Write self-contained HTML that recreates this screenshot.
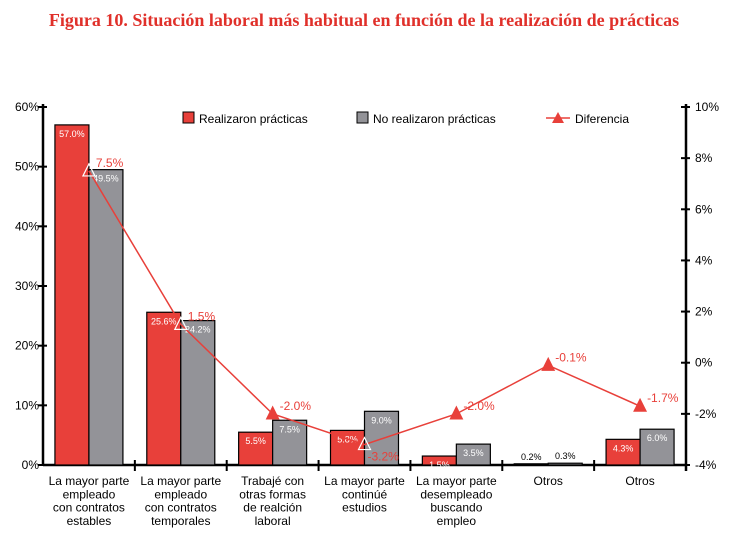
<!DOCTYPE html>
<html><head><meta charset="utf-8"><style>
body{margin:0;background:#fff;width:734px;height:537px;overflow:hidden}
svg{font-family:"Liberation Sans",Arial,sans-serif}
</style></head><body>
<svg width="734" height="537">
<text x="364" y="26" text-anchor="middle" fill="#e0302a" font-family="Liberation Serif,serif" font-weight="bold" font-size="18">Figura 10. Situación laboral más habitual en función de la realización de prácticas</text>
<g id="axes"></g><g id="bars"></g><g id="line"></g>
<g>
<rect x="183" y="112" width="11" height="11" fill="#e8403a" stroke="#000"/>
<text x="199" y="123" font-size="12">Realizaron prácticas</text>
<rect x="357" y="112" width="11" height="11" fill="#939398" stroke="#000"/>
<text x="373" y="123" font-size="12">No realizaron prácticas</text>
<line x1="546" y1="118" x2="570" y2="118" stroke="#e8403a" stroke-width="1.5"/>
<polygon points="558,112 552,123 564,123" fill="#e8403a"/>
<text x="575" y="123" font-size="12">Diferencia</text>
</g>
</svg>
<script>
const categories=[["La mayor parte","empleado","con contratos","estables"],["La mayor parte","empleado","con contratos","temporales"],["Trabajé con","otras formas","de realción","laboral"],["La mayor parte","continúé","estudios"],["La mayor parte","desempleado","buscando","empleo"],["Otros"],["Otros"]];
const realizaron=[57.0,25.6,5.5,5.8,1.5,0.2,4.3];
const noRealizaron=[49.5,24.2,7.5,9.0,3.5,0.3,6.0];
const diferencia=[7.5,1.5,-2.0,-3.2,-2.0,-0.1,-1.7];
const leftTicks=[0,10,20,30,40,50,60];
const rightTicks=[-4,-2,0,2,4,6,8,10];
const NS="http://www.w3.org/2000/svg";
const X0=43,X1=686,Y0=465,Y1=107;
const gw=(X1-X0)/categories.length;
const yL=v=>Y0-(v/60)*(Y0-Y1);
const yR=v=>Y0-((v+4)/14)*(Y0-Y1);
const xc=i=>X0+gw*i+gw/2;
function mk(tag,attrs,parent,txt){const e=document.createElementNS(NS,tag);for(const k in attrs)e.setAttribute(k,attrs[k]);if(txt!==undefined)e.textContent=txt;document.getElementById(parent).appendChild(e);return e;}
let e=mk('line',{x1:X0,y1:Y1-3,x2:X0,y2:Y0,stroke:'#000','stroke-width':2.5},'axes');

e=mk('line',{x1:X1,y1:Y1-3,x2:X1,y2:Y0+6,stroke:'#000','stroke-width':2.5},'axes');

e=mk('line',{x1:X0,y1:Y0,x2:X1,y2:Y0,stroke:'#000','stroke-width':2.5},'axes');

leftTicks.forEach(t=>{const y=yL(t);
 let l=mk('line',{x1:X0-5,y1:y,x2:X0+4,y2:y,stroke:'#000','stroke-width':2},'axes');
 
 let s=mk('text',{x:X0-4,y:y+4,'text-anchor':'end','font-size':12},'axes',t+'%');
 });
rightTicks.forEach(t=>{const y=yR(t);
 let l=mk('line',{x1:X1-5,y1:y,x2:X1+4,y2:y,stroke:'#000','stroke-width':2},'axes');
 
 let s=mk('text',{x:X1+9,y:y+4,'font-size':12},'axes',t+'%');
 });
for(let i=1;i<categories.length;i++){const x=X0+gw*i;
 let l=mk('line',{x1:x,y1:Y0-5,x2:x,y2:Y0+6,stroke:'#000','stroke-width':2},'axes');
 }
categories.forEach((c,i)=>{c.forEach((ln,j)=>{
 let s=mk('text',{x:xc(i),y:485+j*13.3,'text-anchor':'middle','font-size':12},'axes',ln);
 });});
const bw=34;
categories.forEach((c,i)=>{
 const vals=[realizaron[i],noRealizaron[i]];const cols=['#e8403a','#939398'];
 vals.forEach((v,k)=>{const x=xc(i)-bw+k*bw;const y=yL(v);
  let r=mk('rect',{x:x,y:y,width:bw,height:Y0-y,fill:cols[k],stroke:'#000','stroke-width':1.2},'bars');
  
  const small=(Y0-y)<5;
  let t=mk('text',{x:x+bw/2,y:small?y-4:y+12,'text-anchor':'middle','font-size':9,fill:small?'#000':'#fff'},'bars',v.toFixed(1)+'%');
  });});
const pts=diferencia.map((d,i)=>[xc(i),yR(d)]);
let pl=mk('polyline',{points:pts.map(p=>p.join(',')).join(' '),fill:'none',stroke:'#e8403a','stroke-width':1.5},'line');

pts.forEach((p,i)=>{const[x,y]=p;
 const hollow=yL(Math.min(realizaron[i],noRealizaron[i]))<y+6;
 let m=mk('polygon',{points:`${x},${y-7} ${x-6},${y+5} ${x+6},${y+5}`,fill:hollow?'none':'#e8403a',stroke:hollow?'#fff':'#e8403a','stroke-width':1.2},'line');
 
 const below=i===3;
 let t=mk('text',{x:x+(below?3:7),y:below?y+16:y-4,'font-size':12,fill:'#e8403a'},'line',diferencia[i].toFixed(1)+'%');
 });
</script>
</body></html>
